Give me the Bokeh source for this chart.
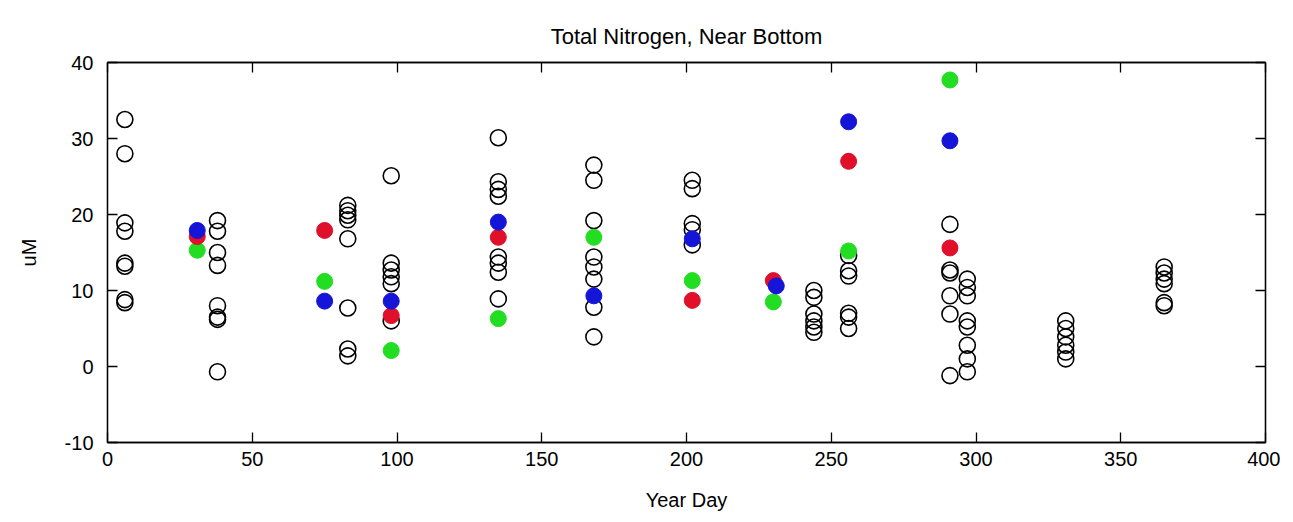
from bokeh.plotting import figure
from bokeh.models import LinearAxis, FixedTicker, Range1d, Title, PrintfTickFormatter
from bokeh.embed import file_html
from bokeh.resources import INLINE

# ---- data ----
open_day = [6]*8 + [38]*8 + [83]*8 + [98]*6 + [135]*8 + [168]*8 + [202]*5 + [244]*6 + [256]*6 + [291]*6 + [297]*8 + [331]*6 + [365]*6
open_val = [32.5, 28.0, 18.9, 17.8, 13.6, 13.2, 8.8, 8.4,
            19.2, 17.8, 15.0, 13.3, 8.0, 6.5, 6.2, -0.7,
            21.2, 20.5, 19.9, 19.3, 16.8, 7.7, 2.3, 1.4,
            25.1, 13.6, 12.7, 11.8, 10.9, 6.0,
            30.1, 24.3, 23.3, 22.4, 14.4, 13.6, 12.4, 8.9,
            26.5, 24.5, 19.2, 14.4, 13.1, 11.5, 7.8, 3.9,
            24.5, 23.4, 18.8, 18.0, 16.0,
            10.0, 9.1, 6.9, 6.0, 5.2, 4.5,
            14.6, 12.6, 11.9, 7.0, 6.5, 5.0,
            18.7, 12.7, 12.3, 9.3, 6.9, -1.2,
            11.5, 10.4, 9.3, 6.0, 5.2, 2.8, 1.0, -0.7,
            6.0, 5.0, 3.9, 2.8, 1.9, 1.0,
            13.1, 12.3, 11.5, 10.9, 8.4, 8.0]

green_day = [31, 75, 98, 135, 168, 202, 230, 256, 291]
green_val = [15.3, 11.2, 2.1, 6.3, 17.0, 11.3, 8.5, 15.2, 37.7]

red_day = [31, 75, 98, 135, 202, 230, 256, 291]
red_val = [17.1, 17.9, 6.7, 17.0, 8.7, 11.3, 27.0, 15.6]

blue_day = [31, 75, 98, 135, 168, 202, 231, 256, 291]
blue_val = [17.9, 8.6, 8.6, 19.0, 9.3, 16.8, 10.6, 32.2, 29.7]

x_ticks = [0, 50, 100, 150, 200, 250, 300, 350, 400]
y_ticks = [-10, 0, 10, 20, 30, 40]

FONT = "Liberation Sans"

p = figure(width=1280, height=518, output_backend="svg", toolbar_location=None,
           x_range=Range1d(0, 400), y_range=Range1d(-10, 40),
           min_border_left=107, min_border_right=15, min_border_top=62, min_border_bottom=76)
p.title = None
p.grid.visible = False
p.outline_line_color = "black"
p.outline_line_width = 1.3
p.background_fill_color = "white"

def style(ax, labels=True):
    ax.axis_line_color = "black"
    ax.axis_line_width = 1.3
    ax.major_tick_in = 10
    ax.major_tick_out = 0
    ax.major_tick_line_width = 1.3
    ax.minor_tick_line_color = None
    ax.major_tick_line_color = "black"
    ax.major_label_text_font = FONT
    ax.major_label_text_font_size = "20px"
    ax.major_label_text_color = "black"
    ax.axis_label_text_font = FONT
    ax.axis_label_text_font_size = "20px"
    ax.axis_label_text_font_style = "normal"
    ax.axis_label_text_color = "black"
    ax.formatter = PrintfTickFormatter(format="%d")
    if not labels:
        ax.major_label_text_font_size = "0px"
        ax.major_label_text_color = None

p.xaxis.ticker = FixedTicker(ticks=x_ticks)
p.yaxis.ticker = FixedTicker(ticks=y_ticks)
p.xaxis.axis_label = "Year Day"
p.yaxis.axis_label = "uM"
style(p.xaxis[0])
style(p.yaxis[0])
p.xaxis.major_label_standoff = 9
p.yaxis.major_label_standoff = 14
p.xaxis.axis_label_standoff = 20
p.yaxis.axis_label_standoff = 22

top = LinearAxis(ticker=FixedTicker(ticks=x_ticks))
right = LinearAxis(ticker=FixedTicker(ticks=y_ticks))
style(top, False)
style(right, False)
p.add_layout(top, "above")
p.add_layout(right, "right")

p.add_layout(Title(text="Total Nitrogen, Near Bottom", align="center",
                   text_font=FONT, text_font_size="22px", text_font_style="normal",
                   text_color="black", offset=0, standoff=28), "above")

S = 16
p.scatter(open_day, open_val, size=S, fill_color=None, line_color="black", line_width=1.6)
p.scatter(green_day, green_val, size=S, fill_color="#22dd22", line_color="#22dd22")
p.scatter(red_day, red_val, size=S, fill_color="#e0102a", line_color="#e0102a")
p.scatter(blue_day, blue_val, size=S, fill_color="#1515d8", line_color="#1515d8")

open("out.html", "w").write(file_html(p, INLINE))
